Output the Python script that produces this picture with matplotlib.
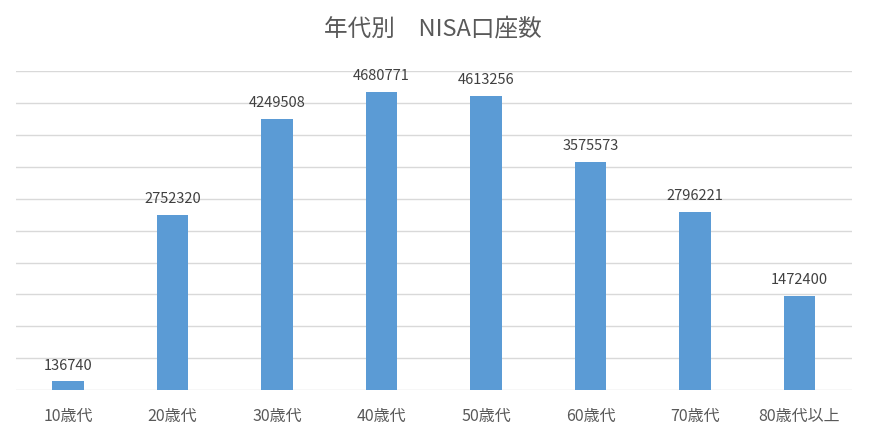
import numpy as np
import matplotlib
matplotlib.use("Agg")
import matplotlib.pyplot as plt

plt.rcParams['font.family'] = ['Noto Sans CJK JP', 'DejaVu Sans']

# data
age_groups = ['10歳代', '20歳代', '30歳代', '40歳代', '50歳代', '60歳代', '70歳代', '80歳代以上']
accounts = [136740, 2752320, 4249508, 4680771, 4613256, 3575573, 2796221, 1472400]

fig = plt.figure(figsize=(8.7, 4.35), dpi=100)
ax = fig.add_axes([0.018, 0.101, 0.961, 0.733])

x = np.arange(len(age_groups))
bars = ax.bar(x, accounts, width=0.3, color='#5B9BD5', zorder=3)

ax.set_xlim(-0.5, len(age_groups) - 0.5)
ax.set_ylim(0, 5000000)
ax.set_yticks(np.arange(0, 5000001, 500000))
ax.yaxis.grid(True, color='#D9D9D9', linewidth=1)
ax.tick_params(axis='y', left=False, labelleft=False)
ax.tick_params(axis='x', bottom=False, labelsize=11.5, labelcolor='#595959', pad=9)
ax.set_xticks(x)
ax.set_xticklabels(age_groups)
for s in ['top', 'right', 'left', 'bottom']:
    ax.spines[s].set_visible(False)

for b, v in zip(bars, accounts):
    ax.annotate(str(v), (b.get_x() + b.get_width() / 2, v), xytext=(0, 7),
                textcoords='offset points', ha='center', va='bottom',
                fontsize=10.5, color='#404040')

fig.text(0.498, 0.933, '年代別　NISA口座数', ha='center', va='center',
         fontsize=17, color='#595959')

fig.savefig('out.png', dpi=100, facecolor='white')
